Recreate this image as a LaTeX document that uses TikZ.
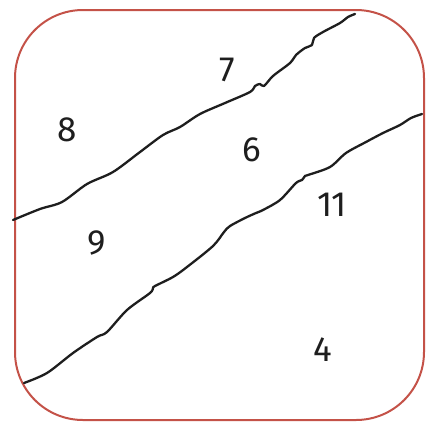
\documentclass[tikz,border=0pt]{standalone}
\usepackage{fontspec}
\setmainfont{Fira Sans}
\usetikzlibrary{positioning}
\definecolor{borderred}{RGB}{196,82,72}
\definecolor{inkgray}{RGB}{30,30,30}

\begin{document}
\begin{tikzpicture}[x=1pt,y=-1pt,
    region/.style={font=\fontsize{35}{35}\selectfont, text=inkgray, inner sep=0pt},
    crack/.style={inkgray, line width=2.3pt, line cap=round, line join=round}]
    \useasboundingbox (0,0) rectangle (426,421);

    % Frame
    \draw[borderred, line width=2pt, rounded corners=68pt] (15,10) rectangle (424,420);

    % Curves
    \draw[crack] plot[smooth, tension=0.5] coordinates {
        (13,220) (40,209) (62,202) (87,184) (113,172) (140,152) (163,135)
        (180,127) (200,114) (225,103) (250,92) (255,86) (260,84) (264,86)
        (273,76) (290,63) (296,55) (305,48) (312,45) (314,38) (323,32)
        (340,23) (348,17) (355,14)};
    \draw[crack] plot[smooth, tension=0.5] coordinates {
        (24,383) (47,373) (73,353) (97,337) (107,332) (127,310) (150,293)
        (153,288) (155,286) (173,277) (187,267) (213,246) (224,232) (230,226)
        (245,218) (256,213) (263,210) (280,200) (296,183) (302,180) (305,176)
        (308,175) (330,167) (346,153) (366,142) (383,133) (400,125) (411,118)
        (422,114)};

    % Labels
    \node[region] (r8) at (67,130) {8};
    \node[region] (r7) at (227,70) {7};
    \node[region] (r6) at (252,150) {6};
    \node[region] (r9) at (97,243) {9};
    \node[region] (r11) at (332,205) {11};
    \node[region] (r4) at (323,350) {4};
\end{tikzpicture}
\end{document}
